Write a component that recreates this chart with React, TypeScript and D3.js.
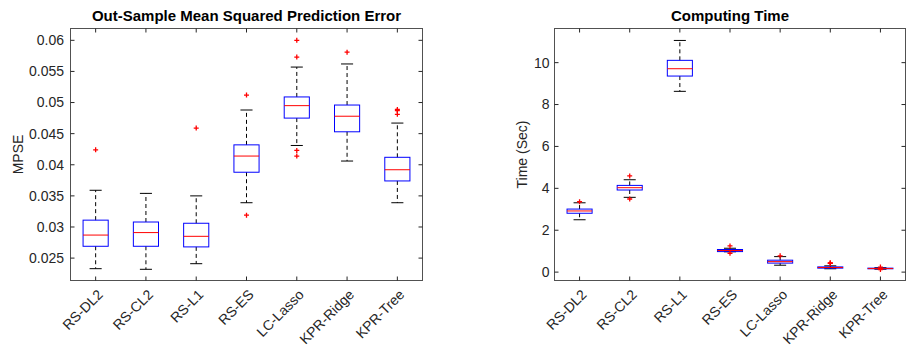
import React from "react";
import * as d3 from "d3";

// categories (same for both panels)
const methods = ["RS-DL2", "RS-CL2", "RS-L1", "RS-ES", "LC-Lasso", "KPR-Ridge", "KPR-Tree"];

// out-sample MPSE box statistics
const mpseWhiskerLow = [0.0233, 0.0232, 0.0241, 0.0339, 0.0431, 0.0406, 0.0339];
const mpseQ1 = [0.0269, 0.0269, 0.0268, 0.0388, 0.0475, 0.0453, 0.0374];
const mpseMedian = [0.0287, 0.0291, 0.0285, 0.0414, 0.0495, 0.0478, 0.0392];
const mpseQ3 = [0.0311, 0.0308, 0.0306, 0.0432, 0.0509, 0.0496, 0.0412];
const mpseWhiskerHigh = [0.0359, 0.0354, 0.035, 0.0488, 0.0557, 0.0562, 0.0467];
const mpseOutliers = [
  [0.0424],
  [],
  [0.0459],
  [0.0512, 0.0319],
  [0.06, 0.0573, 0.0423, 0.0414],
  [0.0581],
  [0.0489, 0.0487, 0.0481],
];
const mpseTicks = [0.025, 0.03, 0.035, 0.04, 0.045, 0.05, 0.055, 0.06];

// computing time box statistics (seconds)
const timeWhiskerLow = [2.5, 3.57, 8.63, 0.97, 0.33, 0.16, 0.14];
const timeQ1 = [2.81, 3.92, 9.36, 0.98, 0.43, 0.19, 0.16];
const timeMedian = [2.92, 4.03, 9.71, 1.03, 0.5, 0.22, 0.17];
const timeQ3 = [3.01, 4.14, 10.11, 1.08, 0.57, 0.25, 0.19];
const timeWhiskerHigh = [3.31, 4.41, 11.06, 1.14, 0.74, 0.3, 0.21];
const timeOutliers = [[3.36], [4.59, 3.49], [], [1.25, 0.9], [0.78], [0.43, 0.44, 0.42], [0.24, 0.12]];
const timeTicks = [0, 2, 4, 6, 8, 10];

const FONT = "'Liberation Sans', Arial, Helvetica, sans-serif";
const AXIS = "#262626";

interface PanelProps {
  left: number;
  right: number;
  top: number;
  bottom: number;
  domain: [number, number];
  ticks: number[];
  title: string;
  ylabel: string;
  ylabelX: number;
  tickGap: number;
  lo: number[];
  q1: number[];
  med: number[];
  q3: number[];
  hi: number[];
  outliers: number[][];
}

const BoxPanel: React.FC<PanelProps> = (p) => {
  const x = d3.scaleLinear().domain([0.5, methods.length + 0.5]).range([p.left, p.right]);
  const y = d3.scaleLinear().domain(p.domain).range([p.bottom, p.top]);
  const unit = x(1) - x(0);
  const boxHalf = unit * 0.25;
  const capHalf = unit * 0.12;
  const tickLen = 4;
  const fmt = (v: number) => String(+v.toFixed(4));

  return (
    <g fontFamily={FONT}>
      <text
        x={(p.left + p.right) / 2}
        y={21}
        textAnchor="middle"
        fontSize={15}
        fontWeight="bold"
        fill="#000"
      >
        {p.title}
      </text>

      {/* boxes */}
      {methods.map((m, i) => {
        const cx = x(i + 1);
        return (
          <g key={m}>
            <line x1={cx} x2={cx} y1={y(p.q3[i])} y2={y(p.hi[i])} stroke="#000" strokeDasharray="4,3" />
            <line x1={cx} x2={cx} y1={y(p.q1[i])} y2={y(p.lo[i])} stroke="#000" strokeDasharray="4,3" />
            <line x1={cx - capHalf} x2={cx + capHalf} y1={y(p.hi[i])} y2={y(p.hi[i])} stroke="#000" />
            <line x1={cx - capHalf} x2={cx + capHalf} y1={y(p.lo[i])} y2={y(p.lo[i])} stroke="#000" />
            <rect
              x={cx - boxHalf}
              y={y(p.q3[i])}
              width={boxHalf * 2}
              height={Math.max(y(p.q1[i]) - y(p.q3[i]), 0.5)}
              fill="none"
              stroke="#0000ff"
            />
            <line x1={cx - boxHalf} x2={cx + boxHalf} y1={y(p.med[i])} y2={y(p.med[i])} stroke="#ff0000" />
            {p.outliers[i].map((v, k) => (
              <path
                key={k}
                d={`M${cx - 2.5},${y(v)}h5M${cx},${y(v) - 2.5}v5`}
                stroke="#ff0000"
                strokeWidth={1.3}
              />
            ))}
          </g>
        );
      })}

      {/* axes box */}
      <rect
        x={p.left}
        y={p.top}
        width={p.right - p.left}
        height={p.bottom - p.top}
        fill="none"
        stroke={AXIS}
        strokeOpacity={0.8}
      />
      {p.ticks.map((t) => (
        <g key={t}>
          <line x1={p.left} x2={p.left + tickLen} y1={y(t)} y2={y(t)} stroke={AXIS} />
          <line x1={p.right} x2={p.right - tickLen} y1={y(t)} y2={y(t)} stroke={AXIS} />
          <text
            x={p.left - p.tickGap}
            y={y(t)}
            dy="0.35em"
            textAnchor="end"
            fontSize={14}
            fill={AXIS}
          >
            {fmt(t)}
          </text>
        </g>
      ))}
      {methods.map((m, i) => {
        const cx = x(i + 1);
        const tx = cx + 8;
        const ty = p.bottom + 15;
        return (
          <g key={m}>
            <line x1={cx} x2={cx} y1={p.bottom} y2={p.bottom - tickLen} stroke={AXIS} />
            <line x1={cx} x2={cx} y1={p.top} y2={p.top + tickLen} stroke={AXIS} />
            <text
              x={tx}
              y={ty}
              textAnchor="end"
              fontSize={14}
              fill={AXIS}
              transform={`rotate(-45, ${tx}, ${ty})`}
            >
              {m}
            </text>
          </g>
        );
      })}
      <text
        x={p.ylabelX}
        y={(p.top + p.bottom) / 2}
        textAnchor="middle"
        fontSize={14}
        fill={AXIS}
        transform={`rotate(-90, ${p.ylabelX}, ${(p.top + p.bottom) / 2})`}
      >
        {p.ylabel}
      </text>
    </g>
  );
};

export default function App() {
  return (
    <svg
      width={906}
      height={349}
      style={{ position: "absolute", left: 0, top: 0, background: "#fff" }}
    >
      <rect width={906} height={349} fill="#fff" />
      <BoxPanel
        left={70.5}
        right={422.5}
        top={28.5}
        bottom={280.5}
        domain={[0.0214, 0.0619]}
        ticks={mpseTicks}
        title="Out-Sample Mean Squared Prediction Error"
        ylabel="MPSE"
        ylabelX={23}
        tickGap={6.5}
        lo={mpseWhiskerLow}
        q1={mpseQ1}
        med={mpseMedian}
        q3={mpseQ3}
        hi={mpseWhiskerHigh}
        outliers={mpseOutliers}
      />
      <BoxPanel
        left={554.5}
        right={905.5}
        top={28.5}
        bottom={280.5}
        domain={[-0.4, 11.63]}
        ticks={timeTicks}
        title="Computing Time"
        ylabel="Time (Sec)"
        ylabelX={527}
        tickGap={5}
        lo={timeWhiskerLow}
        q1={timeQ1}
        med={timeMedian}
        q3={timeQ3}
        hi={timeWhiskerHigh}
        outliers={timeOutliers}
      />
    </svg>
  );
}
